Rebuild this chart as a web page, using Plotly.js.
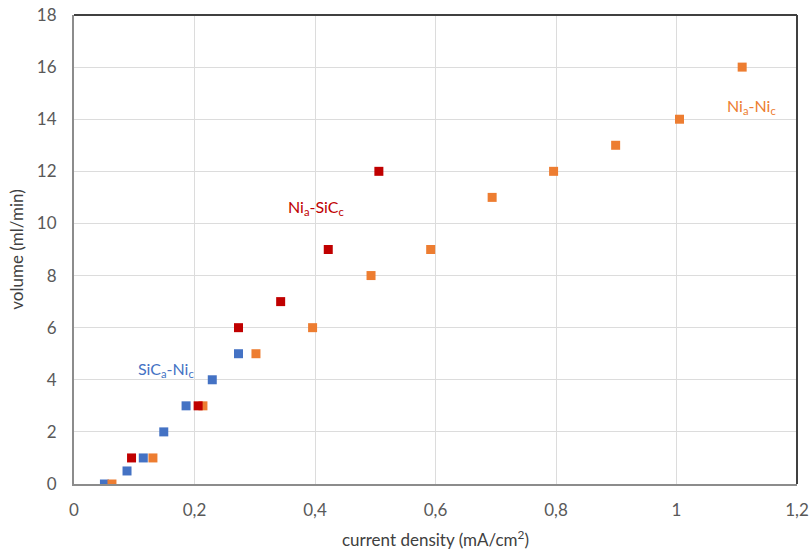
<!DOCTYPE html>
<html>
<head>
<meta charset="utf-8">
<script src="https://cdn.plot.ly/plotly-3.0.1.min.js"></script>
<style>html,body{margin:0;padding:0;background:#fff}#chart{width:810px;height:553px}</style>
</head>
<body>
<div id="chart"></div>
<script>
// Ni_a-Ni_c (orange)
const niNiX = [0.063, 0.131, 0.214, 0.302, 0.396, 0.493, 0.592, 0.694, 0.796, 0.899, 1.005, 1.109];
const niNiY = [0, 1, 3, 5, 6, 8, 9, 11, 12, 13, 14, 16];
// Ni_a-SiC_c (red)
const niSicX = [0.0955, 0.206, 0.273, 0.343, 0.422, 0.506];
const niSicY = [1, 3, 6, 7, 9, 12];
// SiC_a-Ni_c (blue)
const sicNiX = [0.0505, 0.088, 0.115, 0.149, 0.186, 0.2295, 0.273];
const sicNiY = [0, 0.5, 1, 2, 3, 4, 5];

const labels = ["Ni<sub>a</sub>-Ni<sub>c</sub>", "Ni<sub>a</sub>-SiC<sub>c</sub>", "SiC<sub>a</sub>-Ni<sub>c</sub>"];
const labelPos = [[1.125, 14.5], [0.402, 10.6], [0.152, 4.4]];
const colors = ["#ED7D31", "#C00000", "#4472C4"];

const font = "Lato, 'Open Sans', sans-serif";
const mk = (x, y, c) => ({x, y, type: "scatter", mode: "markers",
  marker: {symbol: "square", size: 9, color: c}, showlegend: false, hoverinfo: "x+y"});

const data = [mk(sicNiX, sicNiY, colors[2]), mk(niNiX, niNiY, colors[0]), mk(niSicX, niSicY, colors[1])];

const layout = {
  width: 810, height: 553,
  margin: {l: 74, r: 13, t: 15, b: 69},
  paper_bgcolor: "#fff", plot_bgcolor: "#fff",
  separators: ", ",
  font: {family: font, color: "#595959", size: 17},
  xaxis: {range: [0, 1.2], dtick: 0.2, tick0: 0, showgrid: true, gridcolor: "#dcdcdc", gridwidth: 1,
    zeroline: false, showline: true, linecolor: "#8c8c8c", linewidth: 2, ticks: "", ticklen: 0,
    ticklabelstandoff: 10,
    tickfont: {size: 17, color: "#595959"},
    title: {text: "current density (mA/cm<sup>2</sup>)", font: {size: 17, color: "#404040"}, standoff: 15}},
  yaxis: {range: [0, 18], dtick: 2, tick0: 0, showgrid: true, gridcolor: "#dcdcdc", gridwidth: 1,
    zeroline: false, showline: true, linecolor: "#8c8c8c", linewidth: 2, ticks: "", ticklen: 0,
    ticklabelstandoff: 12,
    tickfont: {size: 17, color: "#595959"},
    title: {text: "volume (ml/min)", font: {size: 17, color: "#404040"}, standoff: 9}},
  shapes: [
    {type: "line", xref: "paper", yref: "paper", x0: 0, x1: 1, y0: 1, y1: 1, line: {color: "#404040", width: 2}},
    {type: "line", xref: "paper", yref: "paper", x0: 1, x1: 1, y0: 0, y1: 1, line: {color: "#404040", width: 2}}
  ],
  annotations: labels.map((t, i) => ({x: labelPos[i][0], y: labelPos[i][1], xref: "x", yref: "y",
    text: t, showarrow: false, font: {family: font, size: 16, color: colors[i]}}))
};

Plotly.newPlot("chart", data, layout, {displayModeBar: false, staticPlot: true});
</script>
</body>
</html>
